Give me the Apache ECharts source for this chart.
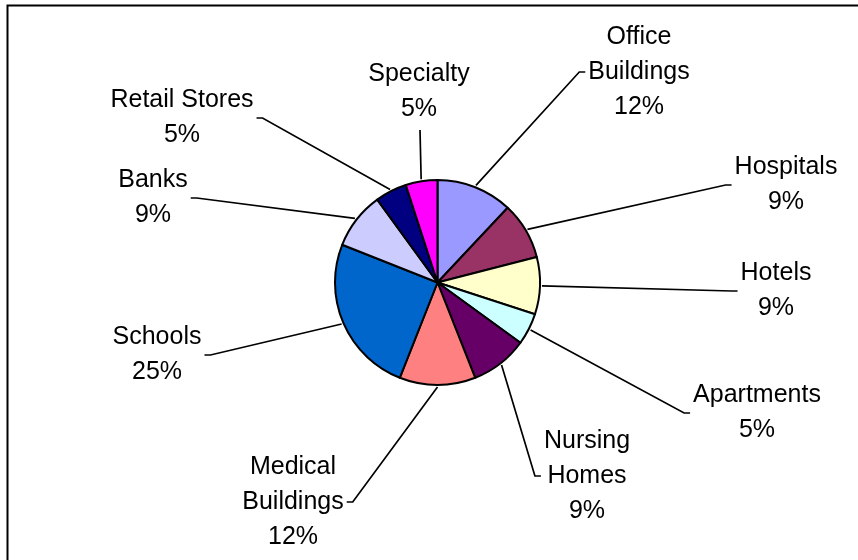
<!DOCTYPE html>
<html>
<head>
<meta charset="utf-8">
<script src="https://cdn.jsdelivr.net/npm/echarts@6/dist/echarts.min.js"></script>
<style>
  html, body { margin: 0; padding: 0; background: #fff; }
  #chart { width: 858px; height: 560px; }
</style>
</head>
<body>
<div id="chart"></div>
<script>
// 数据
const categories = ['Office\nBuildings', 'Hospitals', 'Hotels', 'Apartments', 'Nursing\nHomes',
  'Medical\nBuildings', 'Schools', 'Banks', 'Retail Stores', 'Specialty'];
const shares = [12, 9, 9, 5, 9, 12, 25, 9, 5, 5];
const sliceColors = ['#9999FF', '#993366', '#FFFFCC', '#CCFFFF', '#660066',
  '#FF8080', '#0066CC', '#CCCCFF', '#000080', '#FF00FF'];

// label block centres (layout only)
const labelPos = [[639, 72], [786, 185], [776, 291], [757, 413], [587, 476],
  [293, 502], [157, 355], [153, 198], [182, 118], [419, 92]];

const pieCenter = [437.5, 282.5];

const chart = echarts.init(document.getElementById('chart'), null, { renderer: 'canvas' });

const option = {
  animation: false,
  backgroundColor: '#fff',
  graphic: [{
    type: 'rect',
    left: 5, top: 3,
    shape: { width: 900, height: 620 },
    style: { fill: 'none', stroke: '#000', lineWidth: 2 },
    silent: true
  }],
  series: [{
    type: 'pie',
    center: pieCenter,
    radius: 102.5,
    startAngle: 90,
    clockwise: true,
    avoidLabelOverlap: false,
    silent: true,
    itemStyle: { borderColor: '#000', borderWidth: 2 },
    label: {
      show: true,
      position: 'outside',
      fontFamily: 'Liberation Sans, Arial, sans-serif',
      fontSize: 25,
      lineHeight: 35,
      color: '#000',
      align: 'center',
      formatter: (p) => `${p.name}\n${Math.round(p.percent)}%`
    },
    labelLine: {
      show: true,
      length: 10,
      length2: 10,
      lineStyle: { color: '#000', width: 1.7 }
    },
    labelLayout: (params) => {
      const i = params.dataIndex;
      const [lx, ly] = labelPos[i];
      const w = params.labelRect.width;
      const h = params.labelRect.height;
      const pts = params.labelLinePoints;
      const out = { x: lx, y: ly, align: 'center', verticalAlign: 'middle' };
      if (pts && pts.length >= 2) {
        let dx = pts[1][0] - pts[0][0];
        let dy = pts[1][1] - pts[0][1];
        const len = Math.sqrt(dx * dx + dy * dy) || 1;
        dx /= len; dy /= len;
        const start = [pts[0][0] + dx * 2, pts[0][1] + dy * 2];
        const left = lx - w / 2;
        const right = lx + w / 2;
        const cx = pieCenter[0];
        let linePts;
        if (left > cx) {
          const ex = left - 3;
          linePts = [start, [ex - 6, ly], [ex, ly]];
        } else if (right < cx) {
          const ex = right + 3;
          linePts = [start, [ex + 6, ly], [ex, ly]];
        } else {
          linePts = [start, [lx + 1, ly + h / 2 + 3]];
        }
        out.labelLinePoints = linePts;
      }
      return out;
    },
    emphasis: { disabled: true },
    data: categories.map((name, i) => ({
      name,
      value: shares[i],
      itemStyle: { color: sliceColors[i] }
    }))
  }]
};

chart.setOption(option);
</script>
</body>
</html>
